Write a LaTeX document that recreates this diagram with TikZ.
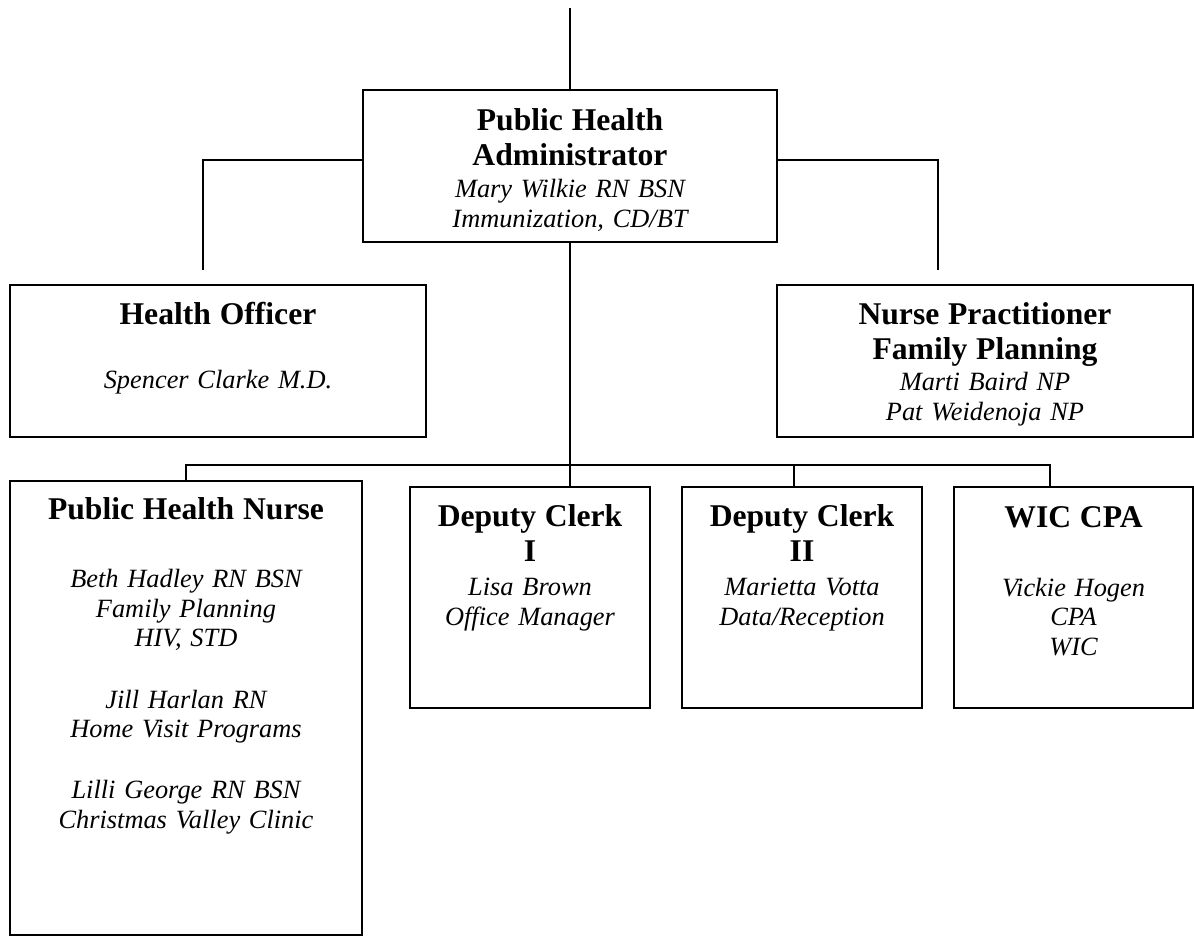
\documentclass[tikz,border=0pt]{standalone}
\usepackage{fontspec}
\setmainfont{Liberation Serif}
\usepackage{tikz}
\usetikzlibrary{positioning}

\newcommand{\headfont}{\fontsize{18}{19.9}\selectfont\upshape\bfseries}
\newcommand{\namefont}{\fontsize{15}{16.8}\selectfont\itshape}

\tikzset{
    box/.style={draw, line width=1.1pt, inner sep=0pt},
    txt/.style={inner sep=0pt, align=center, text width=#1, font=\namefont},
    link/.style={line width=1.1pt}
}

\begin{document}
\begin{tikzpicture}
    \useasboundingbox (0,0) rectangle (23.88,-18.74);

    % Public Health Administrator
    \node[box, minimum width=8.28cm, minimum height=3.04cm] (adm) at (11.40,-3.32) {};
    \node[txt=8cm, below=0.384cm of adm.north] (admtxt) {{\headfont Public Health\\Administrator\par}\vspace{1.6pt}Mary Wilkie RN BSN\\Immunization, CD/BT};

    % Health Officer and Nurse Practitioner
    \node[box, minimum width=8.32cm, minimum height=3.04cm] (hoff) at (4.36,-7.22) {};
    \node[txt=8cm, below=0.362cm of hoff.north] (hofftxt) {{\headfont Health Officer\par}\vspace{19.2pt}Spencer Clarke M.D.};
    \node[box, minimum width=8.32cm, minimum height=3.04cm] (np) at (19.70,-7.22) {};
    \node[txt=8cm, below=0.36cm of np.north] (nptxt) {{\headfont Nurse Practitioner\\Family Planning\par}\vspace{1.2pt}Marti Baird NP\\Pat Weidenoja NP};

    % staff row
    \node[box, minimum width=7.04cm, minimum height=9.08cm] (phn) at (3.72,-14.16) {};
    \node[txt=6.8cm, below=0.35cm of phn.north] (phntxt) {{\headfont Public Health Nurse\par}\vspace{21.9pt}Beth Hadley RN BSN\\Family Planning\\HIV, STD\\[18pt]Jill Harlan RN\\Home Visit Programs\\[18pt]Lilli George RN BSN\\Christmas Valley Clinic};
    \node[box, minimum width=4.80cm, minimum height=4.42cm] (dc1) at (10.60,-11.95) {};
    \node[txt=4.6cm, below=0.37cm of dc1.north] (dc1txt) {{\headfont Deputy Clerk\\I\par}\vspace{2.6pt}Lisa Brown\\Office Manager};
    \node[box, minimum width=4.80cm, minimum height=4.42cm] (dc2) at (16.04,-11.95) {};
    \node[txt=4.6cm, below=0.37cm of dc2.north] (dc2txt) {{\headfont Deputy Clerk\\II\par}\vspace{2.6pt}Marietta Votta\\Data/Reception};
    \node[box, minimum width=4.78cm, minimum height=4.42cm] (wic) at (21.47,-11.95) {};
    \node[txt=4.6cm, below=0.40cm of wic.north] (wictxt) {{\headfont WIC CPA\par}\vspace{22.5pt}Vickie Hogen\\CPA\\WIC};

    % connectors
    \coordinate (top) at (11.40,-0.16);
    \coordinate (hl) at (4.06,-5.40);
    \coordinate (hr) at (18.76,-5.40);
    \coordinate (busR) at (21.00,-9.30);
    \coordinate (d2) at (15.88,-9.30);
    \draw[link] (top) -- (adm.north);
    \draw[link] ([yshift=0.12cm]adm.west) -| (hl);
    \draw[link] ([yshift=0.12cm]adm.east) -| (hr);
    \draw[link] (adm.south) -- (adm.south |- dc1.north);
    \draw[link] (phn.north) |- (busR) -- (busR |- wic.north);
    \draw[link] (d2) -- (d2 |- dc2.north);
\end{tikzpicture}
\end{document}
